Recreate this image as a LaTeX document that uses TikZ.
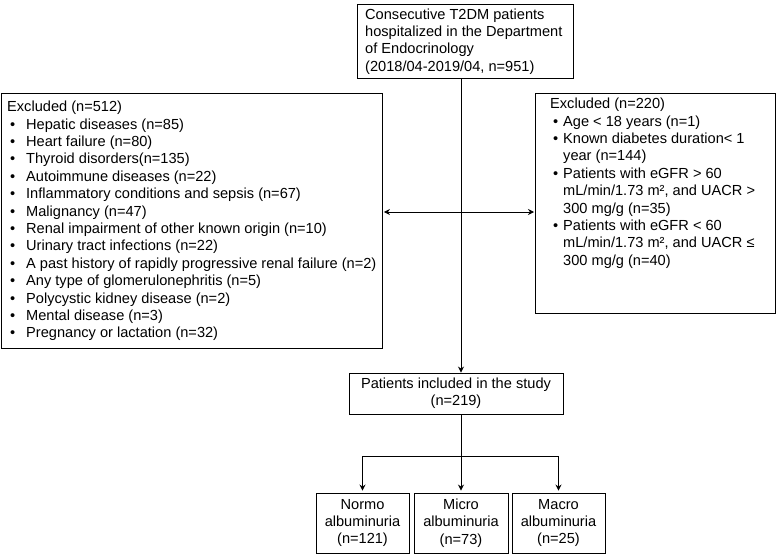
\documentclass[tikz,border=0pt]{standalone}
\usepackage{fontspec}
\setmainfont{Liberation Sans}
\usetikzlibrary{arrows.meta}
\newcommand{\bul}[1]{\makebox[#1][l]{\hspace{3pt}\textbullet}}

\begin{document}
\begin{tikzpicture}[x=1pt,y=-1pt,
  box/.style={draw,line width=0.9pt,inner sep=0pt},
  txt/.style={inner sep=0pt,align=left,font=\fontsize{14.6}{17.4}\selectfont},
  subbox/.style={box,minimum width=93pt,minimum height=60pt,align=center,font=\fontsize{14.6}{17.4}\selectfont},
  arr/.style={line width=0.9pt,-{Stealth[length=6pt,width=6pt]}},
  dblarr/.style={line width=0.9pt,{Stealth[length=6pt,width=6pt]}-{Stealth[length=6pt,width=6pt]}}]
  \useasboundingbox (0,0) rectangle (777,554);
  %Consecutive patients
  \node[box,anchor=north west,minimum width=216pt,minimum height=74pt] (total) at (357,4) {};
  \node[txt,anchor=west,xshift=8pt] (totaltext) at (total.west)
    {Consecutive T2DM patients\\hospitalized in the Department\\of Endocrinology\\(2018/04-2019/04, n=951)};
  %Excluded, left
  \node[box,anchor=north west,minimum width=381pt,minimum height=255pt] (exclA) at (1,93) {};
  \node[txt,anchor=west,xshift=6pt] (exclAtext) at (exclA.west)
    {Excluded (n=512)\\
     \bul{19pt}Hepatic diseases (n=85)\\
     \bul{19pt}Heart failure (n=80)\\
     \bul{19pt}Thyroid disorders(n=135)\\
     \bul{19pt}Autoimmune diseases (n=22)\\
     \bul{19pt}Inflammatory conditions and sepsis (n=67)\\
     \bul{19pt}Malignancy (n=47)\\
     \bul{19pt}Renal impairment of other known origin (n=10)\\
     \bul{19pt}Urinary tract infections (n=22)\\
     \bul{19pt}A past history of rapidly progressive renal failure (n=2)\\
     \bul{19pt}Any type of glomerulonephritis (n=5)\\
     \bul{19pt}Polycystic kidney disease (n=2)\\
     \bul{19pt}Mental disease (n=3)\\
     \bul{19pt}Pregnancy or lactation (n=32)};
  %Excluded, right
  \node[box,anchor=north west,minimum width=240pt,minimum height=220pt] (exclB) at (535,93) {};
  \node[txt,anchor=north west,xshift=15pt,yshift=-5pt] (exclBtext) at (exclB.north west)
    {Excluded (n=220)\\
     \bul{13pt}Age < 18 years (n=1)\\
     \bul{13pt}Known diabetes duration< 1\\
     \hspace*{13pt}year (n=144)\\
     \bul{13pt}Patients with eGFR > 60\\
     \hspace*{13pt}mL/min/1.73 m², and UACR >\\
     \hspace*{13pt}300 mg/g (n=35)\\
     \bul{13pt}Patients with eGFR < 60\\
     \hspace*{13pt}mL/min/1.73 m², and UACR ≤\\
     \hspace*{13pt}300 mg/g (n=40)};
  %Included
  \node[box,minimum width=214pt,minimum height=41pt,align=center,font=\fontsize{14.6}{17.4}\selectfont] (incl) at (456,393.5)
    {Patients included in the study\\(n=219)};
  %Groups
  \node[subbox] (normo) at (362.5,523) {Normo\\albuminuria\\(n=121)};
  \node[subbox,minimum width=94pt] (micro) at (461,523) {Micro\\albuminuria\\(n=73)};
  \node[subbox] (macro) at (558.5,523) {Macro\\albuminuria\\(n=25)};
  %Arrows
  \coordinate (spine) at (461,212);
  \coordinate (fork) at (461,456);
  \draw[arr] (total.south -| spine) -- (incl.north -| spine);
  \draw[dblarr,shorten <=1pt,shorten >=1pt] (exclA.east |- spine) -- (exclB.west |- spine);
  \draw[arr,shorten >=2pt] (incl.south -| spine) -- (micro.north);
  \draw[arr,shorten >=2pt] (fork) -| (normo.north);
  \draw[arr,shorten >=2pt] (fork) -| (macro.north);
\end{tikzpicture}
\end{document}
